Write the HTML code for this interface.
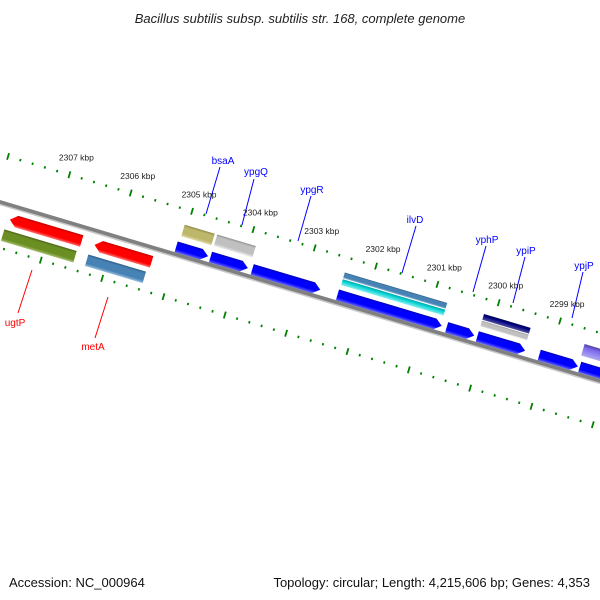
<!DOCTYPE html>
<html><head><meta charset="utf-8"><style>
html,body{margin:0;padding:0;background:#fff}
svg{display:block;font-family:"Liberation Sans","DejaVu Sans",sans-serif}
</style></head><body>
<svg id="map" width="600" height="600" viewBox="0 0 600 600" xmlns="http://www.w3.org/2000/svg">
<defs>
<linearGradient id="g-red" x1="0" y1="0" x2="0" y2="1"><stop offset="0" stop-color="#c00000"/><stop offset="0.2" stop-color="#ff0000"/><stop offset="0.75" stop-color="#ff0000"/><stop offset="1" stop-color="#ff7070"/></linearGradient>
<linearGradient id="g-olive" x1="0" y1="0" x2="0" y2="1"><stop offset="0" stop-color="#4d6619"/><stop offset="0.2" stop-color="#6b8e23"/><stop offset="0.75" stop-color="#6b8e23"/><stop offset="1" stop-color="#a6bf70"/></linearGradient>
<linearGradient id="g-steel" x1="0" y1="0" x2="0" y2="1"><stop offset="0" stop-color="#2f5f8a"/><stop offset="0.2" stop-color="#4682b4"/><stop offset="0.75" stop-color="#4682b4"/><stop offset="1" stop-color="#9cc0df"/></linearGradient>
<linearGradient id="g-blue" x1="0" y1="0" x2="0" y2="1"><stop offset="0" stop-color="#0000b0"/><stop offset="0.2" stop-color="#0000ff"/><stop offset="0.7" stop-color="#0000ff"/><stop offset="1" stop-color="#6060ff"/></linearGradient>
<linearGradient id="g-khaki" x1="0" y1="0" x2="0" y2="1"><stop offset="0" stop-color="#8c874a"/><stop offset="0.2" stop-color="#bdb76b"/><stop offset="0.75" stop-color="#bdb76b"/><stop offset="1" stop-color="#e0dcaa"/></linearGradient>
<linearGradient id="g-silver" x1="0" y1="0" x2="0" y2="1"><stop offset="0" stop-color="#909090"/><stop offset="0.2" stop-color="#c0c0c0"/><stop offset="0.75" stop-color="#c0c0c0"/><stop offset="1" stop-color="#eeeeee"/></linearGradient>
<linearGradient id="g-cyan" x1="0" y1="0" x2="0" y2="1"><stop offset="0" stop-color="#00a0a0"/><stop offset="0.3" stop-color="#00ced1"/><stop offset="1" stop-color="#80f0f0"/></linearGradient>
<linearGradient id="g-navy" x1="0" y1="0" x2="0" y2="1"><stop offset="0" stop-color="#000050"/><stop offset="0.3" stop-color="#000080"/><stop offset="1" stop-color="#5050a0"/></linearGradient>
<linearGradient id="g-slate" x1="0" y1="0" x2="0" y2="1"><stop offset="0" stop-color="#5040a0"/><stop offset="0.3" stop-color="#7b68ee"/><stop offset="1" stop-color="#b0a8f0"/></linearGradient>
</defs>
<text x="300" y="23" text-anchor="middle" font-size="13" font-style="italic" fill="#222">Bacillus subtilis subsp. subtilis str. 168, complete genome</text>
<g id="strip" transform="translate(0,201) rotate(16.6)"></g>
<g id="labels"></g>
<text x="9" y="587" font-size="13" fill="#111">Accession: NC_000964</text>
<text x="590" y="587" text-anchor="end" font-size="13" fill="#111">Topology: circular; Length: 4,215,606 bp; Genes: 4,353</text>
</svg>
<script>
// tick data (kbp)
const majorTicks = [2308, 2307, 2306, 2305, 2304, 2303, 2302, 2301, 2300, 2299, 2298];
const tickLabels = ["2307 kbp", "2306 kbp", "2305 kbp", "2304 kbp", "2303 kbp", "2302 kbp", "2301 kbp", "2300 kbp", "2299 kbp"];
const labelledTicks = [2307, 2306, 2305, 2304, 2303, 2302, 2301, 2300, 2299];
// gene data
const geneNames = ["red-1","olive-1","red-2","steel-1","khaki-1","silver-1","blue-1","blue-2","blue-3","steel-ilvD","cyan-ilvD","blue-4","blue-5","navy-1","gray-1","blue-6","blue-7","blue-8","slate-1"];
const geneStart = [2307.69,2307.73,2306.31,2306.36,2305.05,2304.52,2305.08,2304.52,2303.84,2302.44,2302.44,2302.45,2300.67,2300.17,2300.17,2300.17,2299.16,2298.50,2298.53];
const geneEnd   = [2306.52,2306.55,2305.38,2305.42,2304.56,2303.89,2304.56,2303.91,2302.73,2300.77,2300.77,2300.75,2300.22,2299.41,2299.41,2299.39,2298.53,2297.77,2297.77];
const geneTrack = ["r1","r2","r1","r2","fB","fB","fA","fA","fA","fB1","fB2","fA","fA","fB1","fB2","fA","fA","fA","fB"];
const geneFill  = ["red","olive","red","steel","khaki","silver","blue","blue","blue","steel","cyan","blue","blue","navy","silver","blue","blue","blue","slate"];
const geneShape = ["left","bar","left","bar","bar","bar","right","right","right","bar","bar","right","right","bar","bar","right","right","right","bar"];

const NS = "http://www.w3.org/2000/svg";
const strip = document.getElementById("strip");
const labels = document.getElementById("labels");
const ang = 16.6 * Math.PI / 180, C = Math.cos(ang), S = Math.sin(ang);
function uScale(k){ return 59 + (2307 - k) * 64; }
const tracks = {r1:[9,21], r2:[26,38], fA:[-12,-1], fB:[-30,-18], fB1:[-30,-24], fB2:[-23,-17]};
function mk(tag, attrs, parent){ const e=document.createElementNS(NS,tag); for(const k in attrs) e.setAttribute(k,attrs[k]); parent.appendChild(e); return e; }

// backbone
const bb = mk("line",{x1:-50,y1:1,x2:700,y2:1,stroke:"#808080","stroke-width":4},strip);


const bbs = mk("line",{x1:-50,y1:3.5,x2:700,y2:3.5,stroke:"#c8c8c8","stroke-width":1.5},strip);



// ticks
for (let k = 2308.4; k >= 2297.6; k -= 0.2) {
  const kk = Math.round(k*10)/10;
  const major = Math.abs(kk - Math.round(kk)) < 0.01;
  [-45, 45].forEach(v => {
    const u = uScale(kk) + (v > 0 ? -3 : 0);
    const len = major ? 3.5 : 1.2;
    const t = mk("line",{x1:u,y1:v-len,x2:u,y2:v+len,stroke:"#008000","stroke-width":major?1.8:1.8},strip);
    
    
  });
}
// tick labels (horizontal, screen coords)
labelledTicks.forEach((k,i) => {
  const u = uScale(k), v = -45;
  const X = u*C - v*S, Y = 201 + u*S + v*C;
  const t = mk("text",{x:X+7,y:Y-14,"text-anchor":"middle","font-size":"8.5",fill:"#222"},labels);
  t.textContent = tickLabels[i];
  
  
});

// genes
geneNames.forEach((n,i) => {
  const a = uScale(geneStart[i]), b = uScale(geneEnd[i]);
  const [v0,v1] = tracks[geneTrack[i]];
  const h = 7, sh = geneShape[i];
  let pts;
  if (sh === "right") pts = [[a,v0],[b-h,v0],[b,(v0+v1)/2],[b-h,v1],[a,v1]];
  else if (sh === "left") pts = [[a+h,v0],[b,v0],[b,v1],[a+h,v1],[a,(v0+v1)/2]];
  else pts = [[a,v0],[b,v0],[b,v1],[a,v1]];
  const p = mk("polygon",{points:pts.map(q=>q.join(",")).join(" "),fill:"url(#g-"+geneFill[i]+")"},strip);
  
  
});

// gene name labels with leader lines (screen coords)
const featNames = ["ugtP","metA","bsaA","ypgQ","ypgR","ilvD","yphP","ypiP","ypjP"];
const featColor = ["#ff0000","#ff0000","#0000ff","#0000ff","#0000ff","#0000ff","#0000ff","#0000ff","#0000ff"];
const featText = [[15,326],[93,350],[223,164],[256,175],[312,193],[415,223],[487,243],[526,254],[584,269]];
const featLine = [[32,270,18,313],[108,297,95,338],[220,167,206,214],[254,179,242,225],[311,196,298,241],[416,226,402,273],[486,246,473,292],[525,257,513,303],[583,272,572,318]];
featNames.forEach((n,i) => {
  const l = mk("line",{x1:featLine[i][0],y1:featLine[i][1],x2:featLine[i][2],y2:featLine[i][3],stroke:featColor[i],"stroke-width":1},labels);
  
  
  const t = mk("text",{x:featText[i][0],y:featText[i][1],"text-anchor":"middle","font-size":"10",fill:featColor[i]},labels);
  t.textContent = n;
  
  
});
</script>
</body></html>
